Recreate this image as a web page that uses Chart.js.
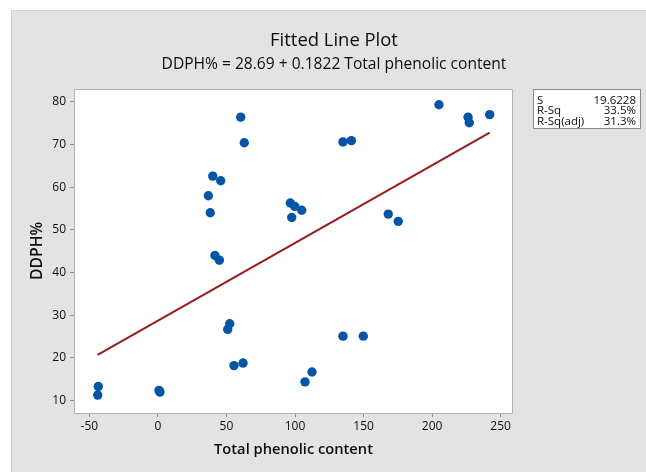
<!DOCTYPE html>
<html><head><meta charset="utf-8">
<script src="https://cdn.jsdelivr.net/npm/chart.js@4.4.0/dist/chart.umd.min.js"></script>
<style>html,body{margin:0;padding:0;background:#fff;overflow:hidden}#wrap{width:646px;height:472px;position:relative}</style>
</head><body><div id="wrap"><canvas id="c" width="646" height="472"></canvas></div>
<script>
// ---- data ----
const phenolic = [-43.5, -43.9, 0.8, 1.5, 36.8, 40.0, 45.8, 38.2, 41.6, 44.8, 50.9, 52.4,
  60.4, 63.0, 55.5, 62.1, 96.6, 99.8, 104.9, 97.6, 107.3, 112.4, 135.0, 141.1,
  135.0, 149.8, 168.0, 175.3, 205.0, 226.2, 227.1, 242.0];
const ddph = [13.3, 11.3, 12.4, 12.0, 58.0, 62.6, 61.5, 54.0, 44.0, 42.9, 26.7, 28.0,
  76.4, 70.4, 18.2, 18.8, 56.3, 55.5, 54.6, 52.9, 14.4, 16.7, 70.6, 70.9,
  25.1, 25.1, 53.7, 52.0, 79.3, 76.4, 75.1, 77.0];
const fitX = [-44, 242];
const fitY = [20.7, 72.8];
const xTicks = [-50, 0, 50, 100, 150, 200, 250];
const yTicks = [10, 20, 30, 40, 50, 60, 70, 80];
const chartTitle = 'Fitted Line Plot';
const chartSubtitle = 'DDPH% = 28.69 + 0.1822 Total phenolic content';
const xTitle = 'Total phenolic content';
const yTitle = 'DDPH%';
const statLabels = ['S', 'R-Sq', 'R-Sq(adj)'];
const statValues = ['19.6228', '33.5%', '31.3%'];

const FAM = '"Open Sans", "Noto Sans", sans-serif';
const TXT = '#0d0d0d';

function fitSize(ctx, text, weight, target) {
  ctx.font = weight + ' 100px ' + FAM;
  return target / ctx.measureText(text).width * 100;
}

const decor = {
  id: 'decor',
  beforeDraw(chart) {
    const ctx = chart.ctx, a = chart.chartArea;
    ctx.save();
    ctx.fillStyle = '#ffffff';
    ctx.fillRect(0, 0, chart.width, chart.height);
    ctx.fillStyle = '#e3e3e3';
    ctx.fillRect(11, 10, chart.width - 11, chart.height - 10);
    ctx.strokeStyle = '#d2d2d2';
    ctx.lineWidth = 1;
    ctx.beginPath();
    ctx.moveTo(11.5, chart.height); ctx.lineTo(11.5, 10.5); ctx.lineTo(chart.width, 10.5);
    ctx.stroke();
    ctx.fillStyle = '#ffffff';
    ctx.fillRect(a.left, a.top, a.right - a.left, a.bottom - a.top);
    ctx.restore();
  },
  afterDraw(chart) {
    const ctx = chart.ctx, a = chart.chartArea;
    ctx.save();
    // frame
    ctx.strokeStyle = '#b4b4b4';
    ctx.lineWidth = 1;
    ctx.strokeRect(a.left + 0.5, a.top + 0.5, a.right - a.left - 1, a.bottom - a.top);
    // titles
    ctx.fillStyle = TXT;
    ctx.textAlign = 'center';
    ctx.textBaseline = 'middle';
    let s = fitSize(ctx, chartTitle, '500', 128);
    ctx.font = '500 ' + s + 'px ' + FAM;
    ctx.fillText(chartTitle, 334, 41);
    s = fitSize(ctx, chartSubtitle, '500', 345);
    ctx.font = '500 ' + s + 'px ' + FAM;
    ctx.fillText(chartSubtitle, 334, 65);
    // axis titles
    s = fitSize(ctx, xTitle, '600', 159);
    ctx.font = '600 ' + s + 'px ' + FAM;
    ctx.fillText(xTitle, (a.left + a.right) / 2, 450);
    s = fitSize(ctx, yTitle, '600', 58);
    ctx.font = '600 ' + s + 'px ' + FAM;
    ctx.save();
    ctx.translate(38, (a.top + a.bottom) / 2);
    ctx.rotate(-Math.PI / 2);
    ctx.fillText(yTitle, 0, 0);
    ctx.restore();
    // stats box
    ctx.fillStyle = '#ffffff';
    ctx.fillRect(533, 89, 108, 40);
    ctx.strokeStyle = '#8a8a8a';
    ctx.strokeRect(533.5, 89.5, 107, 39);
    ctx.fillStyle = TXT;
    ctx.font = '500 11.5px ' + FAM;
    const rows = [100.5, 111, 121.5];
    statLabels.forEach((l, i) => {
      ctx.textAlign = 'left';
      ctx.fillText(l, 537, rows[i]);
      ctx.textAlign = 'right';
      ctx.fillText(statValues[i], 636, rows[i]);
    });
    ctx.restore();
  }
};

new Chart(document.getElementById('c'), {
  type: 'scatter',
  data: {
    datasets: [
      {
        label: 'Data',
        data: phenolic.map((x, i) => ({ x: x, y: ddph[i] })),
        backgroundColor: '#0455a5',
        borderColor: '#0455a5',
        pointRadius: 4.7,
        pointBorderWidth: 0,
        order: 1
      },
      {
        label: 'Fit',
        data: fitX.map((x, i) => ({ x: x, y: fitY[i] })),
        showLine: true,
        borderColor: '#981c1c',
        borderWidth: 2,
        pointRadius: 0,
        order: 2
      }
    ]
  },
  options: {
    responsive: false,
    animation: false,
    devicePixelRatio: 1,
    layout: { padding: { top: 89, right: 133, left: 0, bottom: 0 } },
    plugins: { legend: { display: false }, tooltip: { enabled: false }, title: { display: false } },
    scales: {
      x: {
        type: 'linear', min: -61.2, max: 259,
        afterBuildTicks: s => { s.ticks = xTicks.map(v => ({ value: v })); },
        afterFit: s => { s.height = 59; },
        grid: { drawOnChartArea: false, drawTicks: true, tickLength: 4, color: '#8c8c8c' },
        border: { display: false },
        ticks: { font: { family: FAM, size: 12, weight: '500' }, color: TXT, padding: 2, maxRotation: 0, autoSkip: false }
      },
      y: {
        type: 'linear', min: 7.1, max: 83,
        afterBuildTicks: s => { s.ticks = yTicks.map(v => ({ value: v })); },
        afterFit: s => { s.width = 74; },
        grid: { drawOnChartArea: false, drawTicks: true, tickLength: 4, color: '#8c8c8c' },
        border: { display: false },
        ticks: { font: { family: FAM, size: 12, weight: '500' }, color: TXT, padding: 4, autoSkip: false }
      }
    }
  },
  plugins: [decor]
});
</script>
</body></html>
